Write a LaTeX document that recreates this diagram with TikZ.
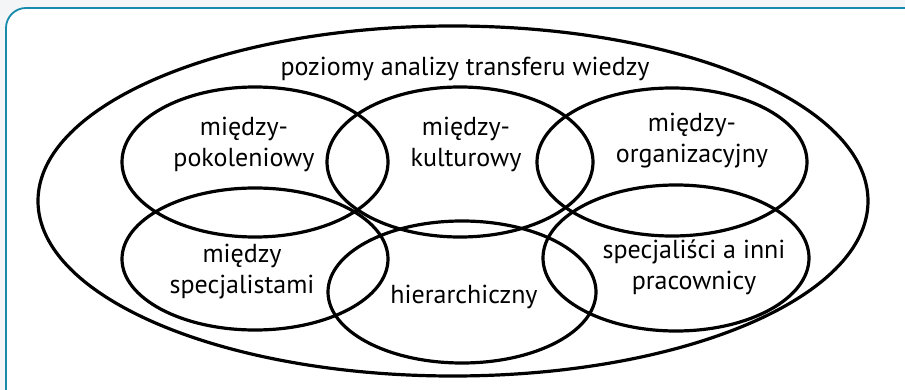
\documentclass[tikz,border=0pt]{standalone}
\usepackage{fontspec}
\setmainfont{PT Sans}
\usetikzlibrary{positioning}
\definecolor{framecol}{RGB}{24,138,172}
\definecolor{pagegray}{RGB}{244,245,246}

\begin{document}
\begin{tikzpicture}[x=1pt,y=-1pt,semithick]
  \tikzstyle{ring}=[draw=black,line width=3.2pt]
  \tikzstyle{lbl}=[align=center,anchor=base,inner sep=0pt,
                   font=\fontsize{26}{31}\selectfont]

  \fill[pagegray] (0,0) rectangle (905,390);
  \useasboundingbox (0,0) rectangle (905,390);
  \draw[framecol,line width=1.8pt,fill=white,rounded corners=20pt] (6,8) rectangle (935,415);

  % outer ellipse
  \draw[ring] (453,201) ellipse [x radius=415,y radius=175];
  % upper row
  \draw[ring] (255,162) ellipse [x radius=133,y radius=75];
  \draw[ring] (460,162) ellipse [x radius=133,y radius=75];
  \draw[ring] (672,162) ellipse [x radius=135,y radius=74];
  % lower row
  \draw[ring] (255,259) ellipse [x radius=133,y radius=71];
  \draw[ring] (462,292) ellipse [x radius=134,y radius=71];
  \draw[ring] (676,258) ellipse [x radius=133,y radius=73];

  % labels (base = last line)
  \node[lbl] (levels) at (465,76) {poziomy analizy transferu wiedzy};
  \node[lbl] (gen)    at (244,167) {między-\\pokoleniowy};
  \node[lbl] (cult)   at (466,167) {między-\\kulturowy};
  \node[lbl] (org)    at (692,163) {między-\\organizacyjny};
  \node[lbl] (spec)   at (242,293) {między\\specjalistami};
  \node[lbl] (hier)   at (464,303) {hierarchiczny};
  \node[lbl] (staff)  at (694,289) {specjaliści a inni\\pracownicy};
\end{tikzpicture}
\end{document}
